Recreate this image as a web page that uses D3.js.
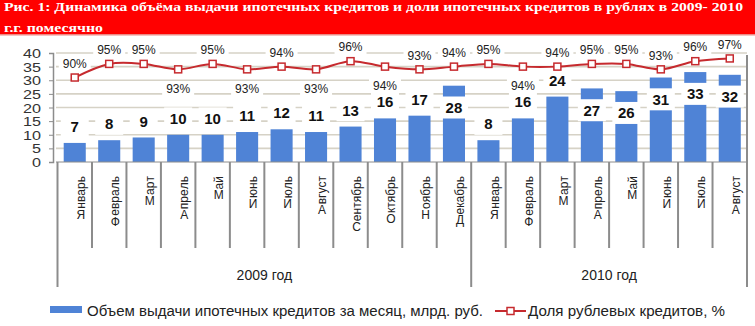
<!DOCTYPE html>
<html>
<head>
<meta charset="utf-8">
<script src="https://cdn.jsdelivr.net/npm/d3@7/dist/d3.min.js"></script>
<style>
  html, body { margin: 0; padding: 0; background: #fff; }
  svg { display: block; }
</style>
</head>
<body>
<svg id="chart" width="755" height="326"></svg>
<script>
// Months of 2009 and of the first eight months of 2010
const months2009 = ["Январь", "Февраль", "Март", "Апрель", "Май", "Июнь",
                    "Июль", "Август", "Сентябрь", "Октябрь", "Ноябрь", "Декабрь"];
const months2010 = ["Январь", "Февраль", "Март", "Апрель", "Май", "Июнь", "Июль", "Август"];
const yearLabels = ["2009 год", "2010 год"];

// Mortgage volume issued per month, bln rub.
const volume2009 = [7, 8, 9, 10, 10, 11, 12, 11, 13, 16, 17, 28];
const volume2010 = [8, 16, 24, 27, 26, 31, 33, 32];

// Share of rouble loans, %
const share2009 = [90, 95, 95, 93, 95, 93, 94, 93, 96, 94, 93, 94];
const share2010 = [95, 94, 94, 95, 95, 93, 96, 97];

// Which side of the marker each percentage label sits on
const shareLabelSide = ["up", "up", "up", "down", "up", "down", "up", "down", "up", "down",
                        "up", "up", "up", "down", "up", "up", "up", "up", "up", "up"];

const yTicks = [0, 5, 10, 15, 20, 25, 30, 35, 40];

const titleLine1 = "Рис. 1: Динамика объёма выдачи ипотечных кредитов и доли ипотечных кредитов в рублях в 2009- 2010";
const titleLine2 = "г.г. помесячно";
const legendVolume = "Объем выдачи ипотечных кредитов за месяц, млрд. руб.";
const legendShare = "Доля рублевых кредитов,  %";

const months = months2009.concat(months2010);
const volume = volume2009.concat(volume2010);
const share = share2009.concat(share2010);
const yearCounts = [months2009.length, months2010.length];
const keys = months.map((m, i) => i);

const BLUE = "#4f83d6";
const RED = "#c62a2e";
const GRID = "#d6d2c6";
const AXIS = "#8c8c8c";
const FONT = "'Liberation Sans', Arial, sans-serif";

const svg = d3.select("#chart");

// ---- title banner ----
svg.append("rect").attr("x", 0).attr("y", 0).attr("width", 755).attr("height", 34).attr("fill", "#ff0000");
svg.append("rect").attr("x", 0).attr("y", 34).attr("width", 755).attr("height", 1.5).attr("fill", "#ec8a86");
svg.append("text").attr("x", 4).attr("y", 11)
  .attr("font-family", "'Liberation Serif', 'Times New Roman', serif")
  .attr("font-weight", "bold").attr("font-size", 13).attr("fill", "#fff")
  .attr("textLength", 739).attr("lengthAdjust", "spacingAndGlyphs")
  .text(titleLine1);
svg.append("text").attr("x", 4).attr("y", 32)
  .attr("font-family", "'Liberation Serif', 'Times New Roman', serif")
  .attr("font-weight", "bold").attr("font-size", 13).attr("fill", "#fff")
  .attr("textLength", 99).attr("lengthAdjust", "spacingAndGlyphs")
  .text(titleLine2);

// ---- scales ----
const plotLeft = 57.5, plotRight = 747, plotTop = 53, plotBottom = 162;
const x = d3.scaleBand().domain(keys).range([plotLeft, plotRight]).paddingInner(0.36).paddingOuter(0.18);
const xCell = d3.scaleBand().domain(keys).range([plotLeft, plotRight]);
const y = d3.scaleLinear().domain([0, 40]).range([plotBottom, plotTop]);
// secondary (hidden) scale for the percentage line
const yShare = d3.scaleLinear().domain([59, 99]).range([plotBottom, plotTop]);

// ---- gridlines ----
svg.append("g").selectAll("line").data(yTicks.filter(t => t > 0)).join("line")
  .attr("x1", 56).attr("x2", plotRight)
  .attr("y1", d => y(d)).attr("y2", d => y(d))
  .attr("stroke", GRID).attr("stroke-width", 1.6);

// ---- left axis ----
const yAxis = d3.axisLeft(y).tickValues(yTicks).tickSize(4).tickPadding(8);
const gy = svg.append("g").attr("transform", "translate(53,0)").call(yAxis);
gy.select(".domain").attr("stroke", AXIS).attr("stroke-width", 1.5);
gy.selectAll(".tick line").attr("stroke", AXIS);
gy.selectAll(".tick text").attr("font-family", FONT).attr("font-size", 12.5).attr("fill", "#333")
  .attr("dy", "0.36em");
gy.selectAll(".tick text").filter(d => d >= 10)
  .attr("textLength", 18).attr("lengthAdjust", "spacingAndGlyphs");
gy.selectAll(".tick text").filter(d => d < 10)
  .attr("textLength", 9).attr("lengthAdjust", "spacingAndGlyphs");

// ---- bars ----
svg.append("g").selectAll("rect").data(keys).join("rect")
  .attr("x", i => x(i)).attr("width", x.bandwidth())
  .attr("y", i => y(volume[i])).attr("height", i => y(0) - y(volume[i]))
  .attr("fill", BLUE);

// baseline and right border
svg.append("line").attr("x1", 56).attr("x2", plotRight).attr("y1", plotBottom).attr("y2", plotBottom)
  .attr("stroke", AXIS).attr("stroke-width", 1);
svg.append("line").attr("x1", plotRight).attr("x2", plotRight).attr("y1", 55).attr("y2", 287)
  .attr("stroke", AXIS).attr("stroke-width", 2);

// ---- category separators ----
const sepG = svg.append("g");
let acc = 0;
const yearBounds = [0];
yearCounts.forEach(c => { acc += c; yearBounds.push(acc); });
keys.forEach(i => {
  if (i === 0) return;
  const xx = xCell(i);
  const isYear = yearBounds.includes(i);
  sepG.append("line").attr("x1", xx).attr("x2", xx).attr("y1", plotBottom).attr("y2", isYear ? 287 : 248)
    .attr("stroke", AXIS).attr("stroke-width", 2);
});
sepG.append("line").attr("x1", plotLeft).attr("x2", plotLeft).attr("y1", plotBottom).attr("y2", 287)
  .attr("stroke", AXIS).attr("stroke-width", 2);

// ---- month labels: letters stacked bottom-to-top, each glyph turned on its side,
//      the capital kept upright at the foot ----
const monthG = svg.append("g").attr("font-family", FONT).attr("font-size", 12).attr("fill", "#222");
const labelTop = 176;
const probe = monthG.append("text").attr("x", -100).attr("y", -100);
const advance = ch => { probe.text(ch); return probe.node().getComputedTextLength(); };
keys.forEach(i => {
  const cx = xCell(i) + xCell.bandwidth() / 2 + 6;
  const name = months[i];
  const rest = Array.from(name.slice(1));
  const widths = rest.map(advance);
  const total = d3.sum(widths);
  let offset = 0;
  rest.forEach((ch, k) => {
    const yk = labelTop + total - offset;   // baseline start of this glyph
    monthG.append("text")
      .attr("x", cx).attr("y", yk).attr("dy", "0.35em")
      .attr("transform", "rotate(-90 " + cx + " " + yk + ")")
      .text(ch);
    offset += widths[k];
  });
  monthG.append("text").attr("x", cx).attr("y", labelTop + total + 10)
    .attr("text-anchor", "middle").text(name[0]);
});
probe.remove();

// ---- year labels ----
yearLabels.forEach((lab, k) => {
  const a = xCell(yearBounds[k]);
  const b = yearBounds[k + 1] < keys.length ? xCell(yearBounds[k + 1]) : plotRight;
  svg.append("text").attr("x", (a + b) / 2).attr("y", 280)
    .attr("text-anchor", "middle").attr("font-family", FONT).attr("font-size", 14).attr("fill", "#222")
    .text(lab);
});

// ---- volume value labels on white boxes (tall bars carry them inside) ----
const valG = svg.append("g");
keys.forEach(i => {
  const v = volume[i];
  const cx = x(i) + x.bandwidth() / 2;
  const cy = v > 24 ? y(v - 8) : y(v + 6);
  valG.append("rect").attr("x", cx - 14).attr("y", cy - 11).attr("width", 28).attr("height", 22)
    .attr("fill", "#fff");
  valG.append("text").attr("x", cx).attr("y", cy).attr("dy", "0.36em")
    .attr("text-anchor", "middle").attr("font-family", FONT).attr("font-weight", "bold")
    .attr("font-size", 15).attr("fill", "#111").text(v);
});

// ---- percentage labels ----
const pctG = svg.append("g");
keys.forEach(i => {
  const cx = x(i) + x.bandwidth() / 2;
  const cy = yShare(share[i]) + (shareLabelSide[i] === "up" ? -14 : 19);
  pctG.append("rect").attr("x", cx - 16).attr("y", cy - 7).attr("width", 32).attr("height", 14)
    .attr("fill", "#fff");
  pctG.append("text").attr("x", cx).attr("y", cy).attr("dy", "0.36em")
    .attr("text-anchor", "middle").attr("font-family", FONT)
    .attr("font-size", 12).attr("fill", "#222").text(share[i] + "%");
});

// ---- share line ----
const line = d3.line()
  .x(i => x(i) + x.bandwidth() / 2)
  .y(i => yShare(share[i]))
  .curve(d3.curveCatmullRom.alpha(0.5));
svg.append("path").datum(keys).attr("d", line)
  .attr("fill", "none").attr("stroke", RED).attr("stroke-width", 2);
svg.append("g").selectAll("rect").data(keys).join("rect")
  .attr("x", i => x(i) + x.bandwidth() / 2 - 3.5).attr("y", i => yShare(share[i]) - 3.5)
  .attr("width", 7).attr("height", 7)
  .attr("fill", "#fff").attr("stroke", RED).attr("stroke-width", 1.5);

// ---- legend ----
const lg = svg.append("g").attr("font-family", FONT).attr("font-size", 14).attr("fill", "#222");
lg.append("rect").attr("x", 50).attr("y", 306).attr("width", 32).attr("height", 7).attr("fill", BLUE);
lg.append("text").attr("x", 87).attr("y", 311).attr("dy", "0.35em")
  .attr("textLength", 396).attr("lengthAdjust", "spacingAndGlyphs").text(legendVolume);
lg.append("line").attr("x1", 495).attr("x2", 526).attr("y1", 311).attr("y2", 311)
  .attr("stroke", RED).attr("stroke-width", 2);
lg.append("rect").attr("x", 507).attr("y", 307.5).attr("width", 7).attr("height", 7)
  .attr("fill", "#fff").attr("stroke", RED).attr("stroke-width", 1.5);
lg.append("text").attr("x", 528).attr("y", 311).attr("dy", "0.35em")
  .attr("textLength", 197).attr("lengthAdjust", "spacingAndGlyphs").text(legendShare);
</script>
</body>
</html>
